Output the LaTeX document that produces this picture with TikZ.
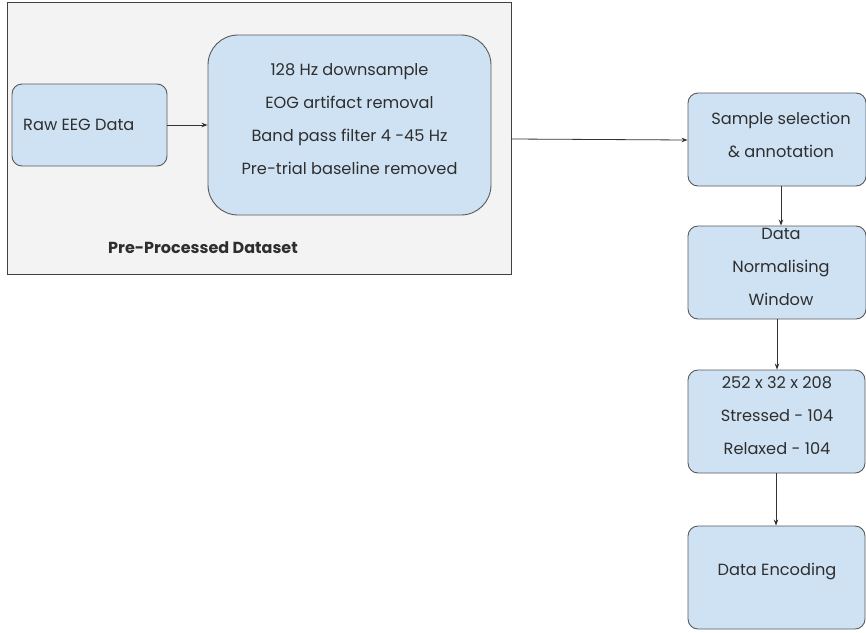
\documentclass[tikz,border=0pt]{standalone}
\usepackage{fontspec}
\setmainfont{Poppins}
\usetikzlibrary{arrows.meta}
\definecolor{boxfill}{HTML}{CFE2F3}
\definecolor{boxline}{HTML}{595959}
\definecolor{framefill}{HTML}{F3F3F3}
\definecolor{txtcol}{HTML}{2E2E2E}
\tikzset{
  stage/.style={draw=boxline, fill=boxfill, line width=0.9pt, rounded corners=10pt, inner sep=0pt},
  txt/.style={text=txtcol, align=center, inner sep=0pt, font=\fontsize{16.2}{33}\selectfont},
  arr/.style={draw=black!80, line width=0.8pt, -{Stealth[length=6pt,width=4.5pt]}}
}
\begin{document}
\begin{tikzpicture}[x=1pt,y=-1pt]
\useasboundingbox (0,0) rectangle (866,632);
% pre-processing frame
\node[draw=black!75, fill=framefill, line width=0.9pt, minimum width=504pt, minimum height=272pt, inner sep=0pt] (frame) at (259,138) {};
\node[stage, minimum width=155pt, minimum height=82pt] (raw) at (89.5,125) {};
\node[txt, anchor=west] (rawtxt) at (23,125) {Raw EEG Data};
\node[stage, rounded corners=30pt, minimum width=283pt, minimum height=180pt] (pre) at (349.5,125) {};
\node[txt] (pretxt) at (349.5,119.5) {128 Hz downsample\\EOG artifact removal\\Band pass filter 4 -45 Hz\\Pre-trial baseline removed};
\node[txt, font=\fontsize{16}{18}\selectfont\bfseries] (framelabel) at (203,248) {Pre-Processed Dataset};
% pipeline column
\node[stage, minimum width=178pt, minimum height=93pt] (sel) at (777,139.5) {};
\node[txt] (seltxt) at (781,134.5) {Sample selection\\\& annotation};
\node[stage, minimum width=178pt, minimum height=93pt] (norm) at (777,272.5) {};
\node[txt] (normtxt) at (781,267) {Data\\Normalising\\Window};
\node[stage, minimum width=177pt, minimum height=103pt] (dims) at (776.5,421.5) {};
\node[txt] (dimstxt) at (777,415.5) {252 x 32 x 208\\Stressed - 104\\Relaxed - 104};
\node[stage, minimum width=177pt, minimum height=103pt] (enc) at (776.5,577.5) {};
\node[txt] (enctxt) at (777,572) {Data Encoding};
% connectors
\draw[arr] (raw.east) -- (pre.west);
\draw[arr] (frame.east |- 0,139) -- (sel.west |- 0,140);
\draw[arr] (sel.south -| 781,0) -- (norm.north -| 781,0);
\draw[arr] (norm.south -| 777,0) -- (dims.north -| 777,0);
\draw[arr] (dims.south -| 776,0) -- (enc.north -| 776,0);
\end{tikzpicture}
\end{document}
